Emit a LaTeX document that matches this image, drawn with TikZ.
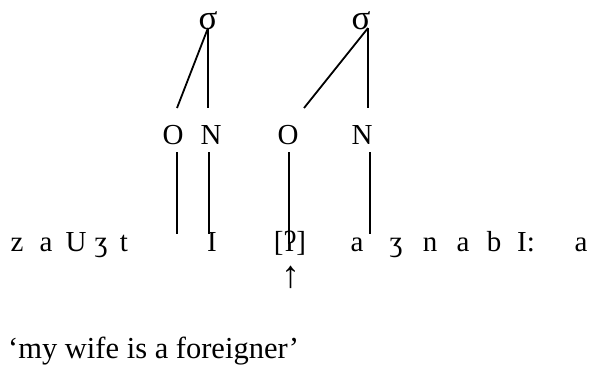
\documentclass[tikz,border=0pt]{standalone}
\usepackage{fontspec}
\setmainfont{Liberation Serif}
\begin{document}
\begin{tikzpicture}[x=1pt,y=-1pt,
  every node/.style={inner sep=0pt, anchor=base, font=\fontsize{29}{34}\selectfont},
  sigma/.style={font=\fontsize{35}{40}\selectfont},
  branch/.style={line width=1.8pt}]
\useasboundingbox (0,0) rectangle (596,383);
\fill[white] (0,0) rectangle (596,383);

% syllable nodes
\node[sigma] (s1) at (208,29) {σ};
\node[sigma] (s2) at (361,29) {σ};

% onset / nucleus row
\node (o1) at (173,144) {O};
\node (n1) at (211,144) {N};
\node (o2) at (288,144) {O};
\node (n2) at (362,144) {N};

% segment tier
\node (z)  at (17,251)  {z};
\node (a1) at (46,251)  {a};
\node (u)  at (76,251)  {U};
\node (zh1) at (101,251) {ʒ};
\node (t)  at (124,251) {t};
\node (i1) at (212,251) {I};
\node (gs) at (290,251) {[ʔ]};
\node (a2) at (357,251) {a};
\node (zh2) at (396,251) {ʒ};
\node (n)  at (430,251) {n};
\node (a3) at (463,251) {a};
\node (b)  at (494,251) {b};
\node (i2) at (526,251) {I:};
\node (a4) at (581,251) {a};

% marker under the glottal stop
\node[font=\fontsize{38}{42}\selectfont] (arr) at (291,287) {↑};

\node[anchor=base west, font=\fontsize{30.5}{36}\selectfont] (gloss) at (8,358) {‘my wife is a foreigner’};

% branch end points
\coordinate (s1b) at (208,28);
\coordinate (s2b) at (368,28);
\coordinate (o1t) at (177,108);
\coordinate (n1t) at (208,108);
\coordinate (o2t) at (304,108);
\coordinate (n2t) at (368,108);
\coordinate (o1b) at (177,152);
\coordinate (n1b) at (209,152);
\coordinate (o2b) at (289,152);
\coordinate (n2b) at (370,152);
\coordinate (o1s) at (177,234);
\coordinate (n1s) at (209,234);
\coordinate (o2s) at (289,244);
\coordinate (n2s) at (370,234);

\draw[branch] (s1b) -- (o1t);
\draw[branch] (s1b) -- (n1t);
\draw[branch] (s2b) -- (o2t);
\draw[branch] (s2b) -- (n2t);
\draw[branch] (o1b) -- (o1s);
\draw[branch] (n1b) -- (n1s);
\draw[branch] (o2b) -- (o2s);
\draw[branch] (n2b) -- (n2s);
\end{tikzpicture}
\end{document}
